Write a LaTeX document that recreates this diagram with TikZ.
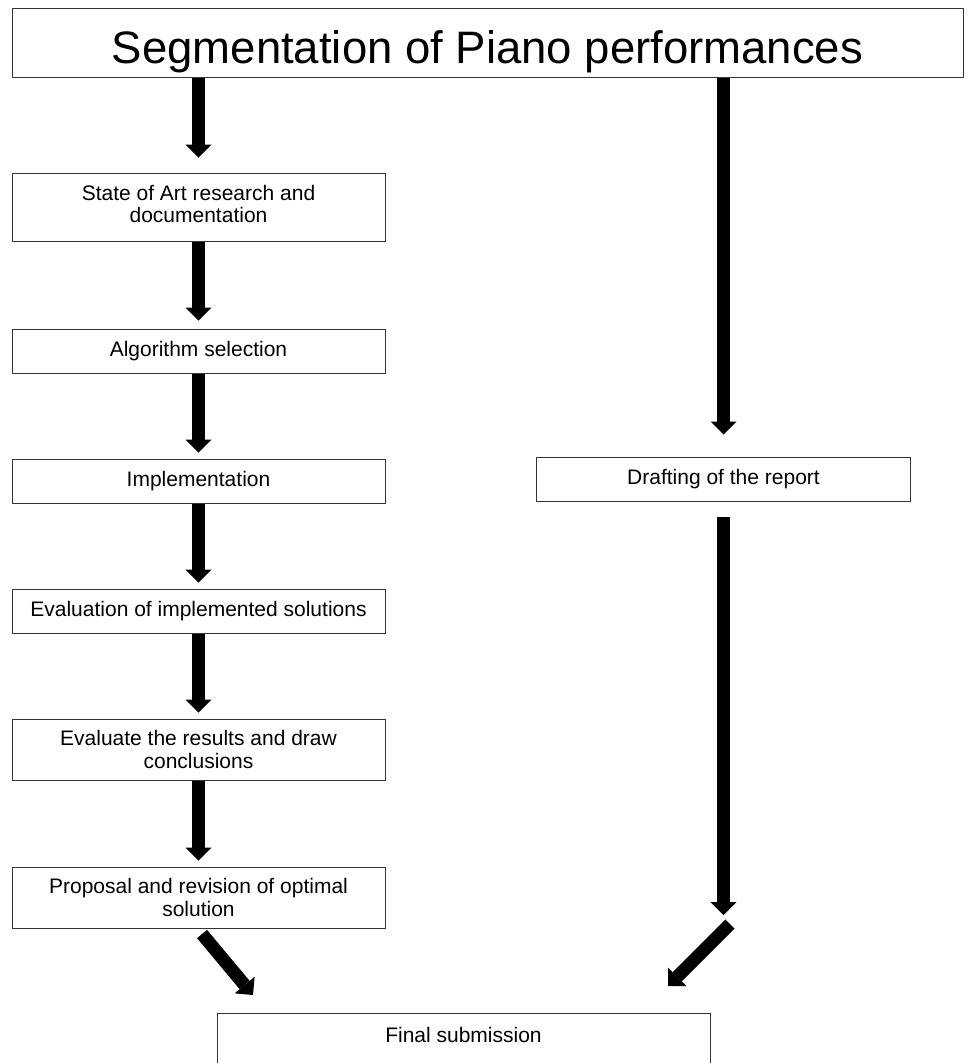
\documentclass[tikz,border=0pt]{standalone}
\usepackage{fontspec}
\setmainfont{Liberation Sans}
\usetikzlibrary{arrows.meta,calc}
\tikzset{
  stepbox/.style={draw=black!80, line width=1pt, fill=white, minimum width=373pt,
    minimum height=44pt, inner sep=2pt, align=center,
    font=\fontsize{21}{22.5}\selectfont},
  titlebox/.style={draw=black!80, line width=1pt, fill=white, minimum width=951pt,
    minimum height=69pt, inner sep=0pt, text height=41pt, text depth=0pt,
    font=\fontsize{45.5}{50}\selectfont},
  bigarrow/.style={black, line width=13pt,
    -{Triangle[width=26pt,length=13pt,line width=0pt]}},
  plaintext/.style={inner sep=0pt, font=\fontsize{21}{23}\selectfont}
}
\begin{document}
\begin{tikzpicture}[x=1pt,y=-1pt]
\useasboundingbox (0,0) rectangle (973,1063);
\fill[white] (0,0) rectangle (973,1063);
\clip (0,0) rectangle (973,1063);

% nodes
\node[titlebox] (title) at (487.5,42.5) {Segmentation of Piano performances};
\node[stepbox, minimum height=68pt] (b1) at (198.5,207) {\strut State of Art research and\\\strut documentation};
\node[stepbox] (b2) at (198.5,351) {Algorithm selection};
\node[stepbox] (b3) at (198.5,481) {Implementation};
\node[stepbox] (b4) at (198.5,611) {Evaluation of implemented solutions};
\node[stepbox, minimum height=61pt] (b5) at (198.5,749.5) {Evaluate the results and draw\\conclusions};
\node[stepbox, minimum height=61pt] (b6) at (198.5,897.5) {Proposal and revision of optimal\\solution};
\node[stepbox, minimum width=374pt] (draft) at (723.5,479) {Drafting of the report};
\node[draw=black!80, line width=1pt, fill=white, minimum width=493pt, minimum height=80pt,
      inner sep=0pt, anchor=north] (final) at (463.5,1013) {};
\node[plaintext, anchor=base] (finaltext) at (463.5,1042.5) {Final submission};

% free ends
\coordinate (rtip) at (723.5,915);
\coordinate (rd1) at (730,924);
\coordinate (rd2) at (668,986);
\coordinate (ld1) at (202,934);
\coordinate (ld2) at (253,995);

% left column arrows
\draw[bigarrow, shorten >=15pt] (title.south -| b1.north) -- (b1.north);
\draw[bigarrow, shorten >=8pt] (b1.south) -- (b2.north);
\draw[bigarrow, shorten >=6pt] (b2.south) -- (b3.north);
\draw[bigarrow, shorten >=6pt] (b3.south) -- (b4.north);
\draw[bigarrow, shorten >=6pt] (b4.south) -- (b5.north);
\draw[bigarrow, shorten >=6pt] (b5.south) -- (b6.north);

% right column arrows
\draw[bigarrow, shorten >=22pt] (title.south -| draft.north) -- (draft.north);
\draw[bigarrow, shorten <=15pt] (draft.south) -- (rtip);

% diagonals towards final submission
\draw[bigarrow] (ld1) -- (ld2);
\draw[bigarrow] (rd1) -- (rd2);
\end{tikzpicture}
\end{document}
